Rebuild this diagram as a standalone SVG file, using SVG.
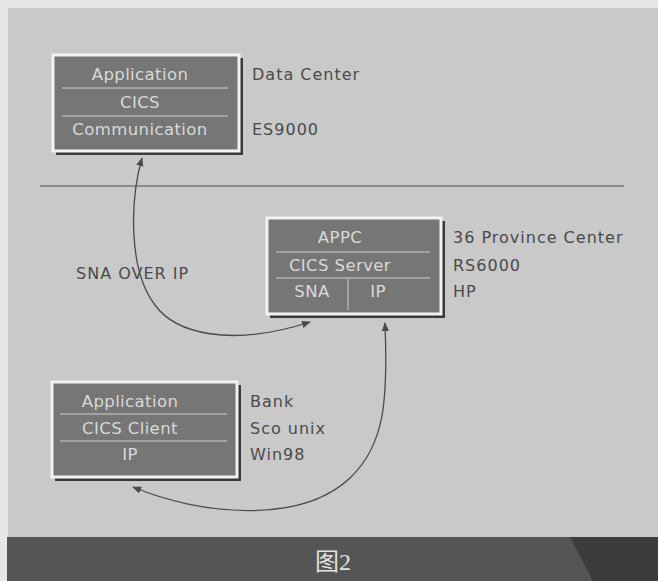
<svg xmlns="http://www.w3.org/2000/svg" width="658" height="581" viewBox="0 0 658 581">
<defs>
<marker id="ah" viewBox="0 0 10 10" refX="9" refY="5" markerWidth="9" markerHeight="9" markerUnits="userSpaceOnUse" orient="auto-start-reverse">
<path d="M0,1 L10,5 L0,9 Z" fill="#4a4a4a"/>
</marker>
</defs>
<style>
.shadow{fill:#3a3a3a}
.box{fill:#767676;stroke:#f2f2f2;stroke-width:3}
.sep{stroke:#cfcfcf;stroke-width:1}
.in{font-family:"DejaVu Sans",sans-serif;font-size:16.5px;fill:#d9d9d9;text-anchor:middle;letter-spacing:0.4px}
.lbl{font-family:"DejaVu Sans",sans-serif;font-size:16px;fill:#4a4a4a;letter-spacing:1px}
.conn{fill:none;stroke:#4a4a4a;stroke-width:1.3}
</style>
<rect x="0" y="0" width="658" height="581" fill="#e6e6e6"/>
<rect x="8" y="8" width="650" height="530" fill="#c9c9c9"/>
<rect x="7" y="537" width="651" height="44" fill="#555555"/>
<polygon points="570,537 658,537 658,581 593,581" fill="#3c3c3c"/>
<line x1="40" y1="186" x2="624" y2="186" stroke="#777" stroke-width="1.5"/>

<g id="datacenter">
<rect class="shadow" x="56" y="58" width="187" height="97"/>
<rect class="box" x="53" y="55" width="186" height="96"/>
<line class="sep" x1="62" y1="88" x2="228" y2="88"/>
<line class="sep" x1="62" y1="116" x2="228" y2="116"/>
<text class="in" x="140" y="80">Application</text>
<text class="in" x="140" y="108">CICS</text>
<text class="in" x="140" y="135">Communication</text>
<text class="lbl" x="252" y="80">Data Center</text>
<text class="lbl" x="252" y="135">ES9000</text>
</g>

<g id="province">
<rect class="shadow" x="270" y="221" width="175" height="97"/>
<rect class="box" x="267" y="218" width="174" height="96"/>
<line class="sep" x1="276" y1="252" x2="430" y2="252"/>
<line class="sep" x1="276" y1="278" x2="430" y2="278"/>
<line class="sep" x1="348" y1="279" x2="348" y2="310"/>
<text class="in" x="340" y="243">APPC</text>
<text class="in" x="340" y="271">CICS Server</text>
<text class="in" x="312" y="297">SNA</text>
<text class="in" x="378" y="297">IP</text>
<text class="lbl" x="453" y="243">36 Province Center</text>
<text class="lbl" x="453" y="271">RS6000</text>
<text class="lbl" x="453" y="297">HP</text>
</g>

<g id="bank">
<rect class="shadow" x="55" y="385" width="186" height="96"/>
<rect class="box" x="52" y="382" width="185" height="95"/>
<line class="sep" x1="60" y1="414" x2="227" y2="414"/>
<line class="sep" x1="60" y1="441" x2="227" y2="441"/>
<text class="in" x="130" y="407">Application</text>
<text class="in" x="130" y="434">CICS Client</text>
<text class="in" x="130" y="460">IP</text>
<text class="lbl" x="250" y="407">Bank</text>
<text class="lbl" x="250" y="434">Sco unix</text>
<text class="lbl" x="250" y="460">Win98</text>
</g>

<text class="lbl" x="76" y="279">SNA OVER IP</text>

<g id="connectors">
<path class="conn" d="M142,158 C130,200 128,270 155,305 C175,333 230,348 310,322" marker-start="url(#ah)" marker-end="url(#ah)"/>
<path class="conn" d="M133,487 C200,515 300,525 350,478 C385,445 388,400 385,323" marker-start="url(#ah)" marker-end="url(#ah)"/>
</g>

<text x="333" y="570" font-family="'Liberation Serif', 'Noto Sans CJK SC', serif" font-size="24" fill="#e2e2e2" text-anchor="middle">图2</text>
</svg>
